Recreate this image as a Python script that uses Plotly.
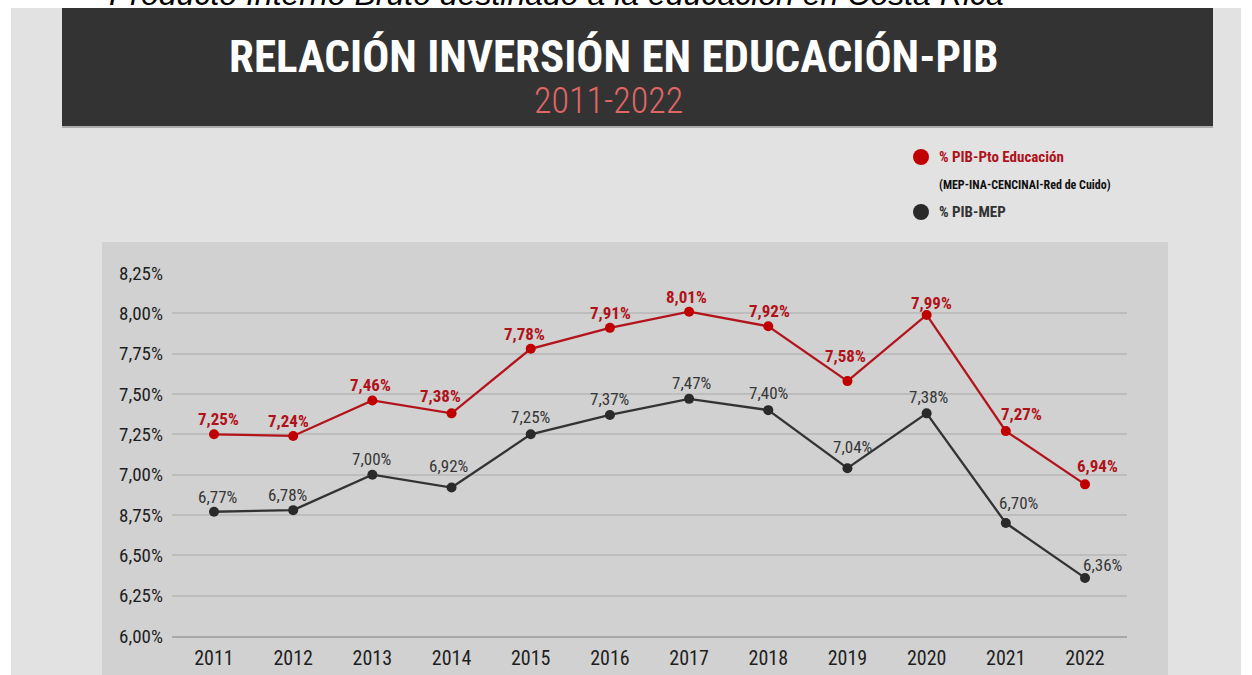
import plotly.graph_objects as go

# ---------------- data ----------------
years = [2011, 2012, 2013, 2014, 2015, 2016, 2017, 2018, 2019, 2020, 2021, 2022]
pib_educacion = [7.25, 7.24, 7.46, 7.38, 7.78, 7.91, 8.01, 7.92, 7.58, 7.99, 7.27, 6.94]
pib_mep = [6.77, 6.78, 7.00, 6.92, 7.25, 7.37, 7.47, 7.40, 7.04, 7.38, 6.70, 6.36]
y_tickvals = [8.25, 8.00, 7.75, 7.50, 7.25, 7.00, 6.75, 6.50, 6.25, 6.00]
y_ticktext = ["8,25%", "8,00%", "7,75%", "7,50%", "7,25%", "7,00%", "8,75%", "6,50%", "6,25%", "6,00%"]
title_text = "RELACIÓN INVERSIÓN EN EDUCACIÓN-PIB"
subtitle_text = "2011-2022"
top_caption = "Producto Interno Bruto destinado a la educación en Costa Rica"
legend_red = "% PIB-Pto Educación"
legend_red_sub = "(MEP-INA-CENCINAI-Red de Cuido)"
legend_black = "% PIB-MEP"

# ---------------- label offsets (pixels) ----------------
red_dx = [4, -5, -2, -11, -6, 1, -3, 1, -2, 5, 16, 12]
red_dy = [15, 15, 15, 17, 15, 15, 15, 15, 25, 12, 17, 18]
blk_dx = [3, -6, -1, -3, 0, 0, 2, 0, 5, 2, 13, 17]
blk_dy = [15, 15, 16, 22, 17, 16, 16, 17, 21, 16, 20, 13]

# ---------------- geometry ----------------
W, H = 1252, 675
L, R, T, B = 172, 1127, 273, 636


def px(x):
    return (x - L) / (R - L)


def py(y):
    return (B - y) / (B - T)


NARROW = "Roboto Condensed, Liberation Sans Narrow, Arial Narrow, DejaVu Sans Condensed, sans-serif"
RED_LINE = "#b3141c"
RED_DOT = "#c00000"
RED_TXT = "#b0121a"
BLK_LINE = "#333333"
BLK_DOT = "#2a2a2a"
BLK_TXT = "#363636"


def fmt(v):
    return f"{v:.2f}".replace(".", ",") + "%"


fig = go.Figure()
fig.add_trace(go.Scatter(
    x=years, y=pib_educacion, mode="lines+markers", name=legend_red,
    line=dict(color=RED_LINE, width=2.3),
    marker=dict(color=RED_DOT, size=10), cliponaxis=False, showlegend=False,
))
fig.add_trace(go.Scatter(
    x=years, y=pib_mep, mode="lines+markers", name=legend_black,
    line=dict(color=BLK_LINE, width=2.3),
    marker=dict(color=BLK_DOT, size=10), cliponaxis=False, showlegend=False,
))

annotations = []
for i, (x, v) in enumerate(zip(years, pib_educacion)):
    annotations.append(dict(
        x=x, y=v, xref="x", yref="y", text=fmt(v), showarrow=False,
        xshift=red_dx[i], yshift=red_dy[i], xanchor="center", yanchor="middle",
        font=dict(family=NARROW, size=17, color=RED_TXT, weight="bold"),
    ))
for i, (x, v) in enumerate(zip(years, pib_mep)):
    annotations.append(dict(
        x=x, y=v, xref="x", yref="y", text=fmt(v), showarrow=False,
        xshift=blk_dx[i], yshift=blk_dy[i], xanchor="center", yanchor="middle",
        font=dict(family=NARROW, size=17, color=BLK_TXT),
    ))

# header texts
annotations.append(dict(
    x=px(613), y=py(56), xref="paper", yref="paper", text=title_text, showarrow=False,
    xanchor="center", yanchor="middle",
    font=dict(family=NARROW, size=45, color="white", weight="bold"),
))
annotations.append(dict(
    x=px(608), y=py(101), xref="paper", yref="paper", text=subtitle_text, showarrow=False,
    xanchor="center", yanchor="middle",
    font=dict(family=NARROW, size=36, color="#e06666", weight=300),
))
annotations.append(dict(
    x=px(556), y=py(14), xref="paper", yref="paper", text=top_caption, showarrow=False,
    xanchor="center", yanchor="bottom",
    font=dict(family="Liberation Sans, Arial, sans-serif", size=32, color="black", style="italic"),
))

# legend texts
annotations.append(dict(
    x=px(937), y=py(157), xref="paper", yref="paper", text=legend_red, showarrow=False,
    xanchor="left", yanchor="middle",
    font=dict(family=NARROW, size=15, color=RED_TXT, weight="bold"),
))
annotations.append(dict(
    x=px(937), y=py(185), xref="paper", yref="paper", text=legend_red_sub, showarrow=False,
    xanchor="left", yanchor="middle",
    font=dict(family=NARROW, size=12, color="#111111", weight="bold"),
))
annotations.append(dict(
    x=px(937), y=py(212), xref="paper", yref="paper", text=legend_black, showarrow=False,
    xanchor="left", yanchor="middle",
    font=dict(family=NARROW, size=15, color="#333333", weight="bold"),
))

shapes = [
    # image background
    dict(type="rect", xref="paper", yref="paper", x0=px(11), x1=px(1241), y0=py(8), y1=py(690),
         fillcolor="#e2e2e2", line=dict(width=0), layer="below"),
    # chart panel
    dict(type="rect", xref="paper", yref="paper", x0=px(102), x1=px(1168), y0=py(242), y1=py(690),
         fillcolor="#d1d1d1", line=dict(width=0), layer="below"),
    # header band
    dict(type="rect", xref="paper", yref="paper", x0=px(62), x1=px(1213), y0=py(8), y1=py(126),
         fillcolor="#333333", line=dict(width=0), layer="below"),
    dict(type="line", xref="paper", yref="paper", x0=px(62), x1=px(1213), y0=py(127), y1=py(127),
         line=dict(color="#9a9a9a", width=1.5), layer="below"),
    # legend dots
    dict(type="circle", xref="paper", yref="paper", x0=px(913), x1=px(929), y0=py(149), y1=py(165),
         fillcolor=RED_DOT, line=dict(width=0)),
    dict(type="circle", xref="paper", yref="paper", x0=px(913), x1=px(929), y0=py(204), y1=py(220),
         fillcolor=BLK_DOT, line=dict(width=0)),
]

x_lo = 2011 - (214 - L) / ((1085 - 214) / 11)
x_hi = 2022 + (R - 1085) / ((1085 - 214) / 11)

fig.update_layout(
    width=W, height=H, autosize=False,
    margin=dict(l=L, r=W - R, t=T, b=H - B, pad=0, autoexpand=False),
    paper_bgcolor="white", plot_bgcolor="rgba(0,0,0,0)",
    showlegend=False,
    annotations=annotations, shapes=shapes,
    xaxis=dict(
        range=[x_lo, x_hi], tickvals=years, ticktext=[str(y) for y in years],
        showgrid=False, zeroline=False, showline=True, linecolor="#a8a8a8", linewidth=2,
        ticks="", ticklabelstandoff=3, automargin=False,
        tickfont=dict(family=NARROW, size=20, color="#1e1e1e"),
    ),
    yaxis=dict(
        range=[6, 8.25], tickvals=y_tickvals, ticktext=y_ticktext,
        showgrid=True, gridcolor="#bdbdbd", gridwidth=1.5, zeroline=False, showline=False,
        ticks="", ticklabelstandoff=8, automargin=False,
        tickfont=dict(family=NARROW, size=19, color="#1e1e1e"),
    ),
)

fig.write_html(
    "out.html",
    config={"displayModeBar": False},
    post_script="document.body.style.margin='0';document.body.style.overflow='hidden';",
)
